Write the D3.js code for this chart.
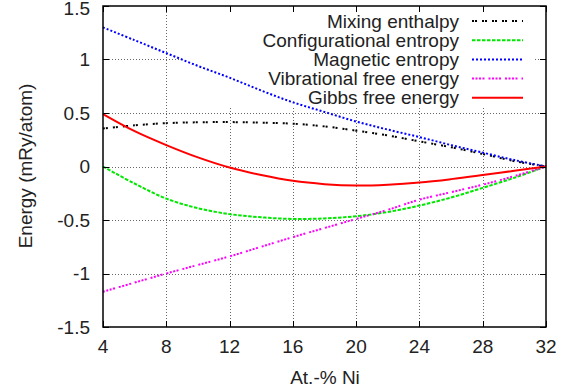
<!DOCTYPE html>
<html>
<head>
<meta charset="utf-8">
<script src="https://cdn.jsdelivr.net/npm/d3@7/dist/d3.min.js"></script>
<style>
  html, body { margin: 0; padding: 0; background: #fff; }
  svg { display: block; font-family: "Liberation Sans", Arial, Helvetica, sans-serif; }
</style>
</head>
<body>
<svg id="chart" width="577" height="392"></svg>
<script>
// Composition (at.-% Ni)
const nickel = [4, 6, 8, 10, 12, 14, 16, 18, 20, 22, 24, 26, 28, 30, 32];

// Energy contributions (mRy/atom)
const mixingEnthalpy        = [0.355, 0.385, 0.405, 0.413, 0.415, 0.41, 0.40, 0.375, 0.335, 0.29, 0.235, 0.18, 0.117, 0.05, 0];
const configurationalEntropy = [0, -0.16, -0.30, -0.39, -0.445, -0.475, -0.49, -0.485, -0.465, -0.425, -0.365, -0.29, -0.20, -0.105, 0];
const magneticEntropy       = [1.30, 1.18, 1.06, 0.94, 0.83, 0.71, 0.60, 0.51, 0.42, 0.345, 0.275, 0.20, 0.13, 0.06, 0];
const vibrationalFreeEnergy = [-1.17, -1.085, -1.0, -0.92, -0.84, -0.75, -0.66, -0.575, -0.49, -0.405, -0.31, -0.24, -0.17, -0.09, 0];
const gibbsFreeEnergy       = [0.49, 0.33, 0.20, 0.085, -0.01, -0.08, -0.134, -0.165, -0.178, -0.17, -0.15, -0.118, -0.08, -0.04, 0];

const xTicks = [4, 8, 12, 16, 20, 24, 28, 32];
const yTicks = [-1.5, -1, -0.5, 0, 0.5, 1, 1.5];

const seriesNames = ["Mixing enthalpy", "Configurational entropy", "Magnetic entropy", "Vibrational free energy", "Gibbs free energy"];
const seriesValues = [mixingEnthalpy, configurationalEntropy, magneticEntropy, vibrationalFreeEnergy, gibbsFreeEnergy];

const styles = [
  { color: "#000000", dash: "2,1,2,5",   width: 2 },
  { color: "#00e800", dash: "3.5,1.5",   width: 2 },
  { color: "#0000ff", dash: "2,2",       width: 2 },
  { color: "#ff00ff", dash: "2,1.5,2,1.5,2,1.5,2,4", width: 2 },
  { color: "#ff0000", dash: null,        width: 2 }
];

const svg = d3.select("#chart");
const plot = { left: 103, right: 546, top: 6, bottom: 327 };

const x = d3.scaleLinear().domain([4, 32]).range([plot.left, plot.right]);
const y = d3.scaleLinear().domain([-1.5, 1.5]).range([plot.bottom, plot.top]);

// grid
const grid = svg.append("g").attr("stroke", "#666").attr("stroke-width", 1).attr("stroke-dasharray", "1,2");
xTicks.slice(1, -1).forEach(t => {
  grid.append("line").attr("x1", Math.round(x(t)) + 0.5).attr("x2", Math.round(x(t)) + 0.5)
    .attr("y1", plot.top).attr("y2", plot.bottom);
});
yTicks.slice(1, -1).forEach(t => {
  grid.append("line").attr("y1", Math.round(y(t)) + 0.5).attr("y2", Math.round(y(t)) + 0.5)
    .attr("x1", plot.left).attr("x2", plot.right);
});

// key background covers the grid
const keyBox = { x0: 183, x1: 535, y0: 8, y1: 107 };
svg.append("rect").attr("x", keyBox.x0).attr("y", keyBox.y0)
  .attr("width", keyBox.x1 - keyBox.x0).attr("height", keyBox.y1 - keyBox.y0)
  .attr("fill", "#fff");

// curves
const line = d3.line().curve(d3.curveCatmullRom.alpha(0.5))
  .x((d, i) => x(nickel[i])).y(d => y(d));

seriesValues.forEach((vals, k) => {
  const s = styles[k];
  svg.append("path").datum(vals).attr("d", line)
    .attr("fill", "none").attr("stroke", s.color).attr("stroke-width", s.width)
    .attr("stroke-dasharray", s.dash);
});

// frame and inward ticks (mirrored)
const axisG = svg.append("g").attr("stroke", "#000").attr("stroke-width", 1);
axisG.append("rect").attr("x", plot.left).attr("y", plot.top)
  .attr("width", plot.right - plot.left).attr("height", plot.bottom - plot.top)
  .attr("fill", "none").attr("stroke-width", 1.5);
const tl = 6;
xTicks.forEach(t => {
  const px = Math.round(x(t)) + 0.5;
  axisG.append("line").attr("x1", px).attr("x2", px).attr("y1", plot.bottom).attr("y2", plot.bottom - tl);
  axisG.append("line").attr("x1", px).attr("x2", px).attr("y1", plot.top).attr("y2", plot.top + tl);
});
yTicks.forEach(t => {
  const py = Math.round(y(t)) + 0.5;
  axisG.append("line").attr("y1", py).attr("y2", py).attr("x1", plot.left).attr("x2", plot.left + tl);
  axisG.append("line").attr("y1", py).attr("y2", py).attr("x1", plot.right).attr("x2", plot.right - tl);
});

// tick labels
const fs = 19;
const labels = svg.append("g").attr("font-size", fs).attr("fill", "#222");
xTicks.forEach(t => {
  labels.append("text").attr("x", x(t)).attr("y", 353).attr("text-anchor", "middle").text(d3.format("d")(t));
});
yTicks.forEach(t => {
  labels.append("text").attr("x", 90).attr("y", Math.max(y(t), 8)).attr("dy", "0.35em")
    .attr("text-anchor", "end").text(String(t));
});

// axis titles
labels.append("text").attr("x", 325).attr("y", 384).attr("text-anchor", "middle").text("At.-% Ni");
labels.append("text").attr("transform", "translate(32,166) rotate(-90)")
  .attr("text-anchor", "middle").text("Energy (mRy/atom)");

// key
const keyRow0 = 21, keyStep = 19.2;
seriesNames.forEach((name, k) => {
  const yy = keyRow0 + k * keyStep;
  labels.append("text").attr("x", 459).attr("y", yy).attr("dy", "0.35em")
    .attr("text-anchor", "end").text(name);
  const s = styles[k];
  svg.append("line").attr("x1", 472).attr("x2", 523).attr("y1", yy).attr("y2", yy)
    .attr("stroke", s.color).attr("stroke-width", s.width).attr("stroke-dasharray", s.dash);
});
</script>
</body>
</html>
